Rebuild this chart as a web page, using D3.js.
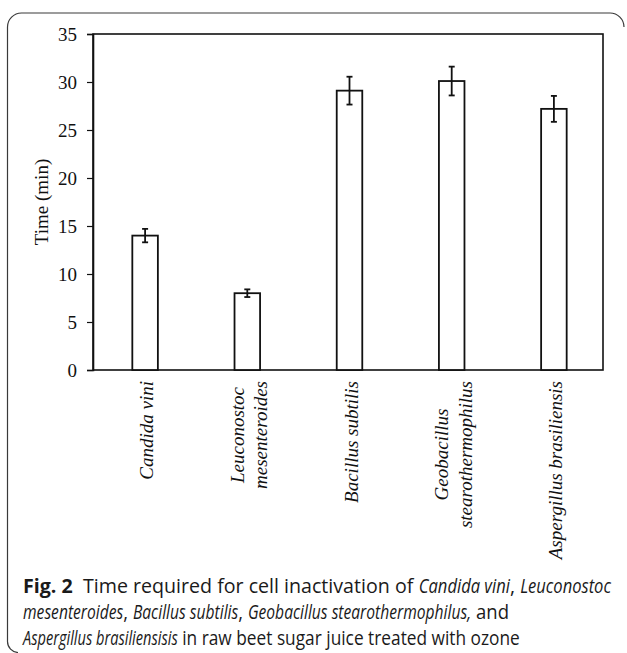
<!DOCTYPE html>
<html><head><meta charset="utf-8">
<script src="https://cdn.jsdelivr.net/npm/d3@7"></script>
<style>body{margin:0;background:#fff}svg{display:block}</style>
</head><body>
<svg id="c" width="627" height="653"></svg>
<script>
// ---- data ----
const categories = [
  ["Candida vini"],
  ["Leuconostoc", "mesenteroides"],
  ["Bacillus subtilis"],
  ["Geobacillus", "stearothermophilus"],
  ["Aspergillus brasiliensis"]
];
const values = [14.0, 8.0, 29.1, 30.1, 27.2];
const errors = [0.7, 0.4, 1.45, 1.5, 1.35];
const yTicks = [0, 5, 10, 15, 20, 25, 30, 35];
const yLabel = "Time (min)";
const captionLine1 = [["Fig. 2", "bold"], ["  Time required for cell inactivation of ", "normal"], ["Candida vini", "italic"], [", ", "normal"], ["Leuconostoc", "italic"]];
const captionLine2 = [["mesenteroides", "italic"], [", ", "normal"], ["Bacillus subtilis", "italic"], [", ", "normal"], ["Geobacillus stearothermophilus,", "italic"], [" and", "normal"]];
const captionLine3 = [["Aspergillus brasiliensisis", "italic"], [" in raw beet sugar juice treated with ozone", "normal"]];

// ---- drawing ----
(function () {
const svg = d3.select("#c");
const serif = "'Liberation Serif','Times New Roman',serif";
const sans = "'Open Sans','Noto Sans',sans-serif";

// outer rounded frame (partial)
svg.append("path")
  .attr("d", "M 18 652.5 A 11 11 0 0 1 7.5 641.5 L 7.5 27 A 14 14 0 0 1 21.5 13 L 610 13 A 14 14 0 0 1 624 27")
  .attr("fill", "none").attr("stroke", "#3a3a3a").attr("stroke-width", 1.2);

const pL = 93, pR = 603, pT = 34, pB = 370;
const x = d3.scaleBand().domain(d3.range(categories.length)).range([94, 605]).paddingInner(0.75).paddingOuter(0.375);
const y = d3.scaleLinear().domain([0, 35]).range([pB, pT]);

// plot frame
svg.append("rect").attr("x", pL).attr("y", pT).attr("width", pR - pL).attr("height", pB - pT)
  .attr("fill", "none").attr("stroke", "#111").attr("stroke-width", 1.6);

// y axis
const yAxis = svg.append("g").attr("transform", `translate(${pL},0)`)
  .call(d3.axisLeft(y).tickValues(yTicks).tickSize(6).tickPadding(10).tickFormat(d3.format("d")));
yAxis.select(".domain").attr("stroke", "#111").attr("stroke-width", 1.6);
yAxis.selectAll(".tick line").attr("stroke", "#111").attr("stroke-width", 1.2);
yAxis.selectAll(".tick text").attr("font-family", serif).attr("font-size", 19).attr("fill", "#111");

svg.append("text").attr("transform", `translate(48,${(pT + pB) / 2}) rotate(-90)`)
  .attr("text-anchor", "middle").attr("font-family", serif).attr("font-size", 19).attr("fill", "#111")
  .text(yLabel);

// bars
svg.append("g").selectAll("rect").data(values).join("rect")
  .attr("x", (d, i) => x(i)).attr("y", d => y(d))
  .attr("width", x.bandwidth()).attr("height", d => y(0) - y(d))
  .attr("fill", "#fff").attr("stroke", "#111").attr("stroke-width", 1.8);

// error bars
const eb = svg.append("g").attr("stroke", "#111").attr("stroke-width", 1.8);
values.forEach((v, i) => {
  const cx = x(i) + x.bandwidth() / 2;
  const e = errors[i];
  eb.append("line").attr("x1", cx).attr("x2", cx).attr("y1", y(v + e)).attr("y2", y(v - e));
  eb.append("line").attr("x1", cx - 3).attr("x2", cx + 3).attr("y1", y(v + e)).attr("y2", y(v + e));
  eb.append("line").attr("x1", cx - 3).attr("x2", cx + 3).attr("y1", y(v - e)).attr("y2", y(v - e));
});

// x labels (rotated, italic)
const lineH = 23.5;
categories.forEach((lines, i) => {
  const cx = x(i) + x.bandwidth() / 2 + 1.5;
  const g = svg.append("g").attr("transform", `translate(${cx},${pB + 11}) rotate(-90)`);
  const texts = lines.map((t, k) => g.append("text")
    .attr("font-family", serif).attr("font-style", "italic").attr("font-size", 19).attr("fill", "#111")
    .attr("text-anchor", "middle")
    .attr("y", (k - (lines.length - 1) / 2) * lineH)
    .attr("dy", "0.35em")
    .text(t));
  const maxL = d3.max(texts, t => t.node().getComputedTextLength());
  texts.forEach(t => t.attr("x", -maxL / 2));
});

// caption: segments laid out one after another; upright and italic parts get their own
// horizontal condensing (fitted to the reference line widths) to mimic a narrow humanist face
const capLines = [captionLine1, captionLine2, captionLine3];
const capWidths = [588, 486, 497];
const capY = [593, 619, 645];
const made = capLines.map((segs, li) => segs.map(([s, st]) => {
  const t = svg.append("text").attr("font-family", sans).attr("font-size", 19.5)
    .attr("fill", "#1a1a1a").style("white-space", "pre").text(s);
  if (st === "bold") t.attr("font-weight", "bold");
  if (st === "italic") t.attr("font-style", "italic");
  return {t, st, w: t.node().getComputedTextLength()};
}));
// least squares for scale a (upright) and b (italic)
let Snn = 0, Sii = 0, Sni = 0, Snt = 0, Sit = 0;
made.forEach((segs, li) => {
  const N = d3.sum(segs.filter(s => s.st !== "italic"), s => s.w);
  const I = d3.sum(segs.filter(s => s.st === "italic"), s => s.w);
  const T = capWidths[li];
  Snn += N * N; Sii += I * I; Sni += N * I; Snt += N * T; Sit += I * T;
});
const det = Snn * Sii - Sni * Sni;
let a = (Snt * Sii - Sit * Sni) / det, b = (Sit * Snn - Snt * Sni) / det;
made.forEach((segs, li) => {
  let cur = 23;
  const N = d3.sum(segs.filter(s => s.st !== "italic"), s => s.w);
  const I = d3.sum(segs.filter(s => s.st === "italic"), s => s.w);
  const k = capWidths[li] / (a * N + b * I);
  segs.forEach(s => {
    const sc = (s.st === "italic" ? b : a) * k;
    s.t.attr("transform", `translate(${cur},${capY[li]}) scale(${sc},1)`);
    cur += s.w * sc;
  });
});
})();
</script>
</body></html>
